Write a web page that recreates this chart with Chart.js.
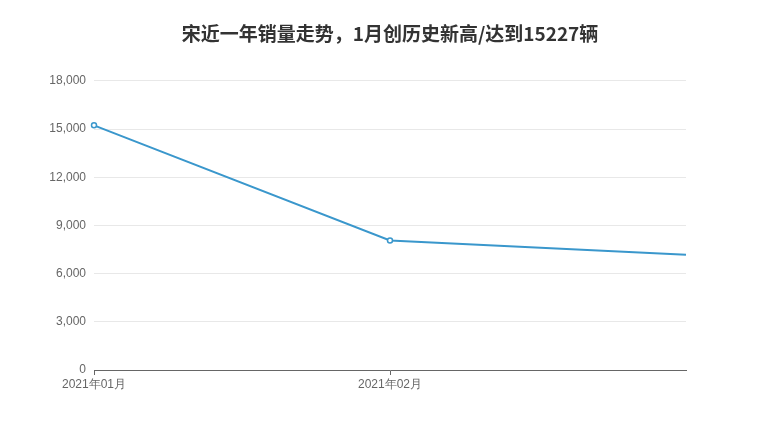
<!DOCTYPE html>
<html>
<head>
<meta charset="utf-8">
<script src="https://cdn.jsdelivr.net/npm/chart.js@4/dist/chart.umd.min.js"></script>
<style>
  html, body { margin: 0; padding: 0; background: #fff; }
  #wrap { width: 780px; height: 440px; }
</style>
</head>
<body>
<div id="wrap"><canvas id="salesChart" width="780" height="440"></canvas></div>
<script>
const chartTitle = "宋近一年销量走势，1月创历史新高/达到15227辆";
const months = ["2021年01月", "2021年02月", "2021年03月"];
const sales = [15227, 8060, 7170];
const yTicks = [0, 3000, 6000, 9000, 12000, 15000, 18000];
const shownLabels = 2; // the last month has no label or marker in the source

const axisFont = { family: "'Liberation Sans', Arial, sans-serif", size: 12 };

const ctx = document.getElementById("salesChart").getContext("2d");
new Chart(ctx, {
  type: "line",
  data: {
    labels: months,
    datasets: [{
      label: "销量",
      data: sales,
      borderColor: "#3a97cc",
      borderWidth: 2,
      backgroundColor: "#ffffff",
      pointBackgroundColor: "#ffffff",
      pointBorderColor: "#3a97cc",
      pointBorderWidth: 1.5,
      pointRadius: sales.map((v, i) => i < shownLabels ? 2.5 : 0),
      tension: 0,
      fill: false
    }]
  },
  options: {
    responsive: false,
    animation: false,
    layout: { padding: { left: 0, right: 0, top: 0, bottom: 40 } },
    plugins: {
      legend: { display: false },
      tooltip: { enabled: false },
      title: {
        display: true,
        text: chartTitle,
        color: "#333333",
        font: { family: "'Noto Sans CJK SC', sans-serif", size: 19, weight: "bold" },
        padding: { top: 22, bottom: 36 }
      }
    },
    scales: {
      x: {
        offset: false,
        afterFit: s => { s.height = 30; },
        border: { display: true, color: "#666666", width: 1 },
        grid: {
          drawOnChartArea: false,
          drawTicks: true,
          tickLength: 5,
          color: c => c.index < shownLabels ? "#666666" : "rgba(0,0,0,0)"
        },
        ticks: {
          color: "#666666",
          font: axisFont,
          padding: 2,
          maxRotation: 0,
          autoSkip: false,
          callback: function (v, i) { return i < shownLabels ? this.getLabelForValue(v) : ""; }
        }
      },
      y: {
        min: 0,
        max: 18000,
        afterFit: s => { s.width = 94; },
        afterBuildTicks: s => { s.ticks = yTicks.map(v => ({ value: v })); },
        border: { display: false },
        grid: { color: "#e8e8e8", drawTicks: false, lineWidth: 1 },
        ticks: {
          color: "#666666",
          font: axisFont,
          padding: 8,
          callback: v => v.toLocaleString("en-US")
        }
      },
      // empty right margin so the title stays centred on the canvas
      yRight: {
        position: "right",
        min: 0,
        max: 18000,
        afterFit: s => { s.width = 94; },
        border: { display: false },
        grid: { display: false },
        ticks: { display: false }
      }
    }
  }
});
</script>
</body>
</html>
